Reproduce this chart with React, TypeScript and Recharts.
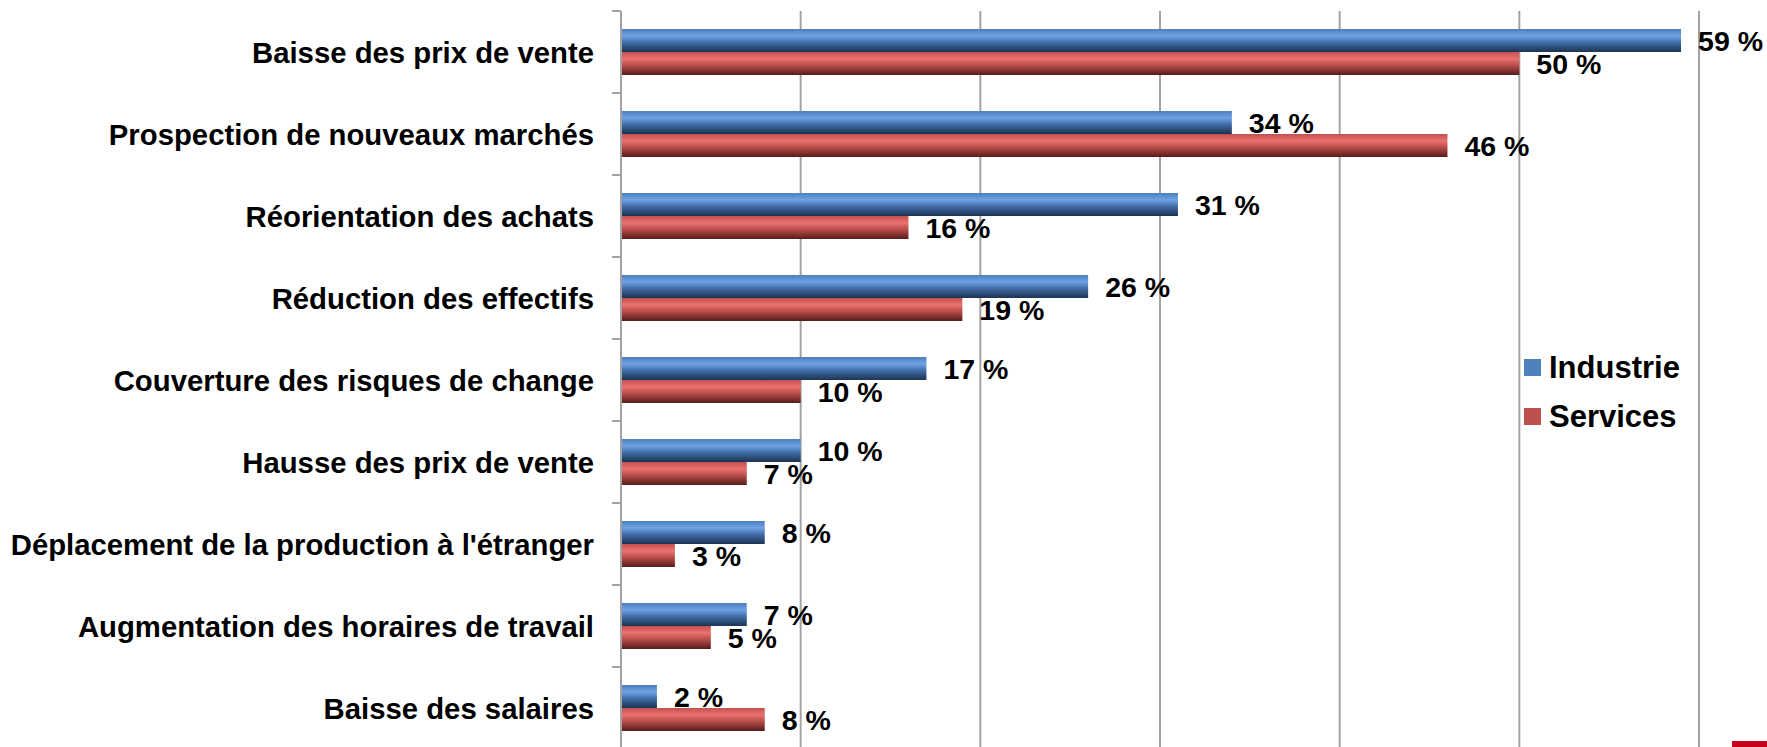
import { Bar, BarChart, CartesianGrid, LabelList, XAxis, YAxis } from "recharts";

const categories = [
  "Baisse des prix de vente",
  "Prospection de nouveaux marchés",
  "Réorientation des achats",
  "Réduction des effectifs",
  "Couverture des risques de change",
  "Hausse des prix de vente",
  "Déplacement de la production à l'étranger",
  "Augmentation des horaires de travail",
  "Baisse des salaires",
];
const industrie = [59, 34, 31, 26, 17, 10, 8, 7, 2];
const services = [50, 46, 16, 19, 10, 7, 3, 5, 8];
const xTicks = [0, 10, 20, 30, 40, 50, 60];
const seriesNames = ["Industrie", "Services"];

const data = categories.map((name, i) => ({
  name,
  industrie: industrie[i],
  services: services[i],
}));

const W = 1767;
const H = 760;
const TOP = 11;
const BOTTOM = 11;
const LEFT_W = 621;
const RIGHT = 68;
const BAND = (H - TOP - BOTTOM) / categories.length;
const TICK_SIZE = 9;
const TICK_MARGIN = 18;
const FONT = "'Liberation Sans', Arial, sans-serif";
const GRID = "#a3a3a3";

const CategoryTick = (props: any) => {
  const { x, y, payload, index } = props;
  const axisX = x + TICK_SIZE + TICK_MARGIN;
  return (
    <g>
      <line x1={axisX - TICK_SIZE} x2={axisX} y1={y - BAND / 2} y2={y - BAND / 2} stroke={GRID} strokeWidth={2} />
      {index === categories.length - 1 && (
        <line x1={axisX - TICK_SIZE} x2={axisX} y1={y + BAND / 2} y2={y + BAND / 2} stroke={GRID} strokeWidth={2} />
      )}
      <text
        x={x}
        y={y}
        textAnchor="end"
        dominantBaseline="central"
        fontFamily={FONT}
        fontWeight="bold"
        fontSize={29.3}
        fill="#000"
      >
        {payload.value}
      </text>
    </g>
  );
};

// x tick labels are below the visible area, so draw nothing for them
const EmptyTick = () => <g />;

const fmt = (v: any) => `${v} %`;

export default function App() {
  const legendColors = ["#4f81bd", "#c0504d"];
  return (
    <div style={{ position: "absolute", left: 0, top: 0, width: W, height: 747, overflow: "hidden", background: "#fff" }}>
      <BarChart
        width={W}
        height={H}
        data={data}
        layout="vertical"
        margin={{ top: TOP, right: RIGHT, bottom: BOTTOM, left: 0 }}
        barGap={0}
      >
        <defs>
          <linearGradient id="gBlue" x1="0" y1="0" x2="0" y2="1">
            <stop offset="0%" stopColor="#4d7fbf" />
            <stop offset="30%" stopColor="#6ea2e4" />
            <stop offset="60%" stopColor="#3f6ba6" />
            <stop offset="100%" stopColor="#1c3352" />
          </linearGradient>
          <linearGradient id="gRed" x1="0" y1="0" x2="0" y2="1">
            <stop offset="0%" stopColor="#c4504e" />
            <stop offset="30%" stopColor="#ea7270" />
            <stop offset="60%" stopColor="#b64a48" />
            <stop offset="100%" stopColor="#561c1b" />
          </linearGradient>
        </defs>
        <CartesianGrid horizontal={false} stroke={GRID} strokeWidth={2} />
        <XAxis
          type="number"
          domain={[0, 60]}
          ticks={xTicks}
          tick={<EmptyTick />}
          tickLine={false}
          axisLine={false}
          height={0}
        />
        <YAxis
          type="category"
          dataKey="name"
          width={LEFT_W}
          tickSize={TICK_SIZE}
          tickMargin={TICK_MARGIN}
          tickLine={false}
          axisLine={{ stroke: GRID, strokeWidth: 2 }}
          tick={<CategoryTick />}
          interval={0}
        />
        <Bar dataKey="industrie" name={seriesNames[0]} fill="url(#gBlue)" barSize={23} isAnimationActive={false}>
          <LabelList dataKey="industrie" position="right" offset={17} formatter={fmt} fill="#000" fontFamily={FONT} fontWeight="bold" fontSize={28.5} />
        </Bar>
        <Bar dataKey="services" name={seriesNames[1]} fill="url(#gRed)" barSize={23} isAnimationActive={false}>
          <LabelList dataKey="services" position="right" offset={17} formatter={fmt} fill="#000" fontFamily={FONT} fontWeight="bold" fontSize={28.5} />
        </Bar>
      </BarChart>
      <div style={{ position: "absolute", left: 1524, top: 343, fontFamily: FONT, fontWeight: "bold", fontSize: 31, color: "#000" }}>
        {seriesNames.map((n, i) => (
          <div key={n} style={{ display: "flex", alignItems: "center", height: 49 }}>
            <span style={{ width: 17, height: 17, background: legendColors[i], marginRight: 8, display: "inline-block" }} />
            <span>{n}</span>
          </div>
        ))}
      </div>
      <div style={{ position: "absolute", left: 1732, top: 741, width: 35, height: 6, background: "#c8001e" }} />
    </div>
  );
}
